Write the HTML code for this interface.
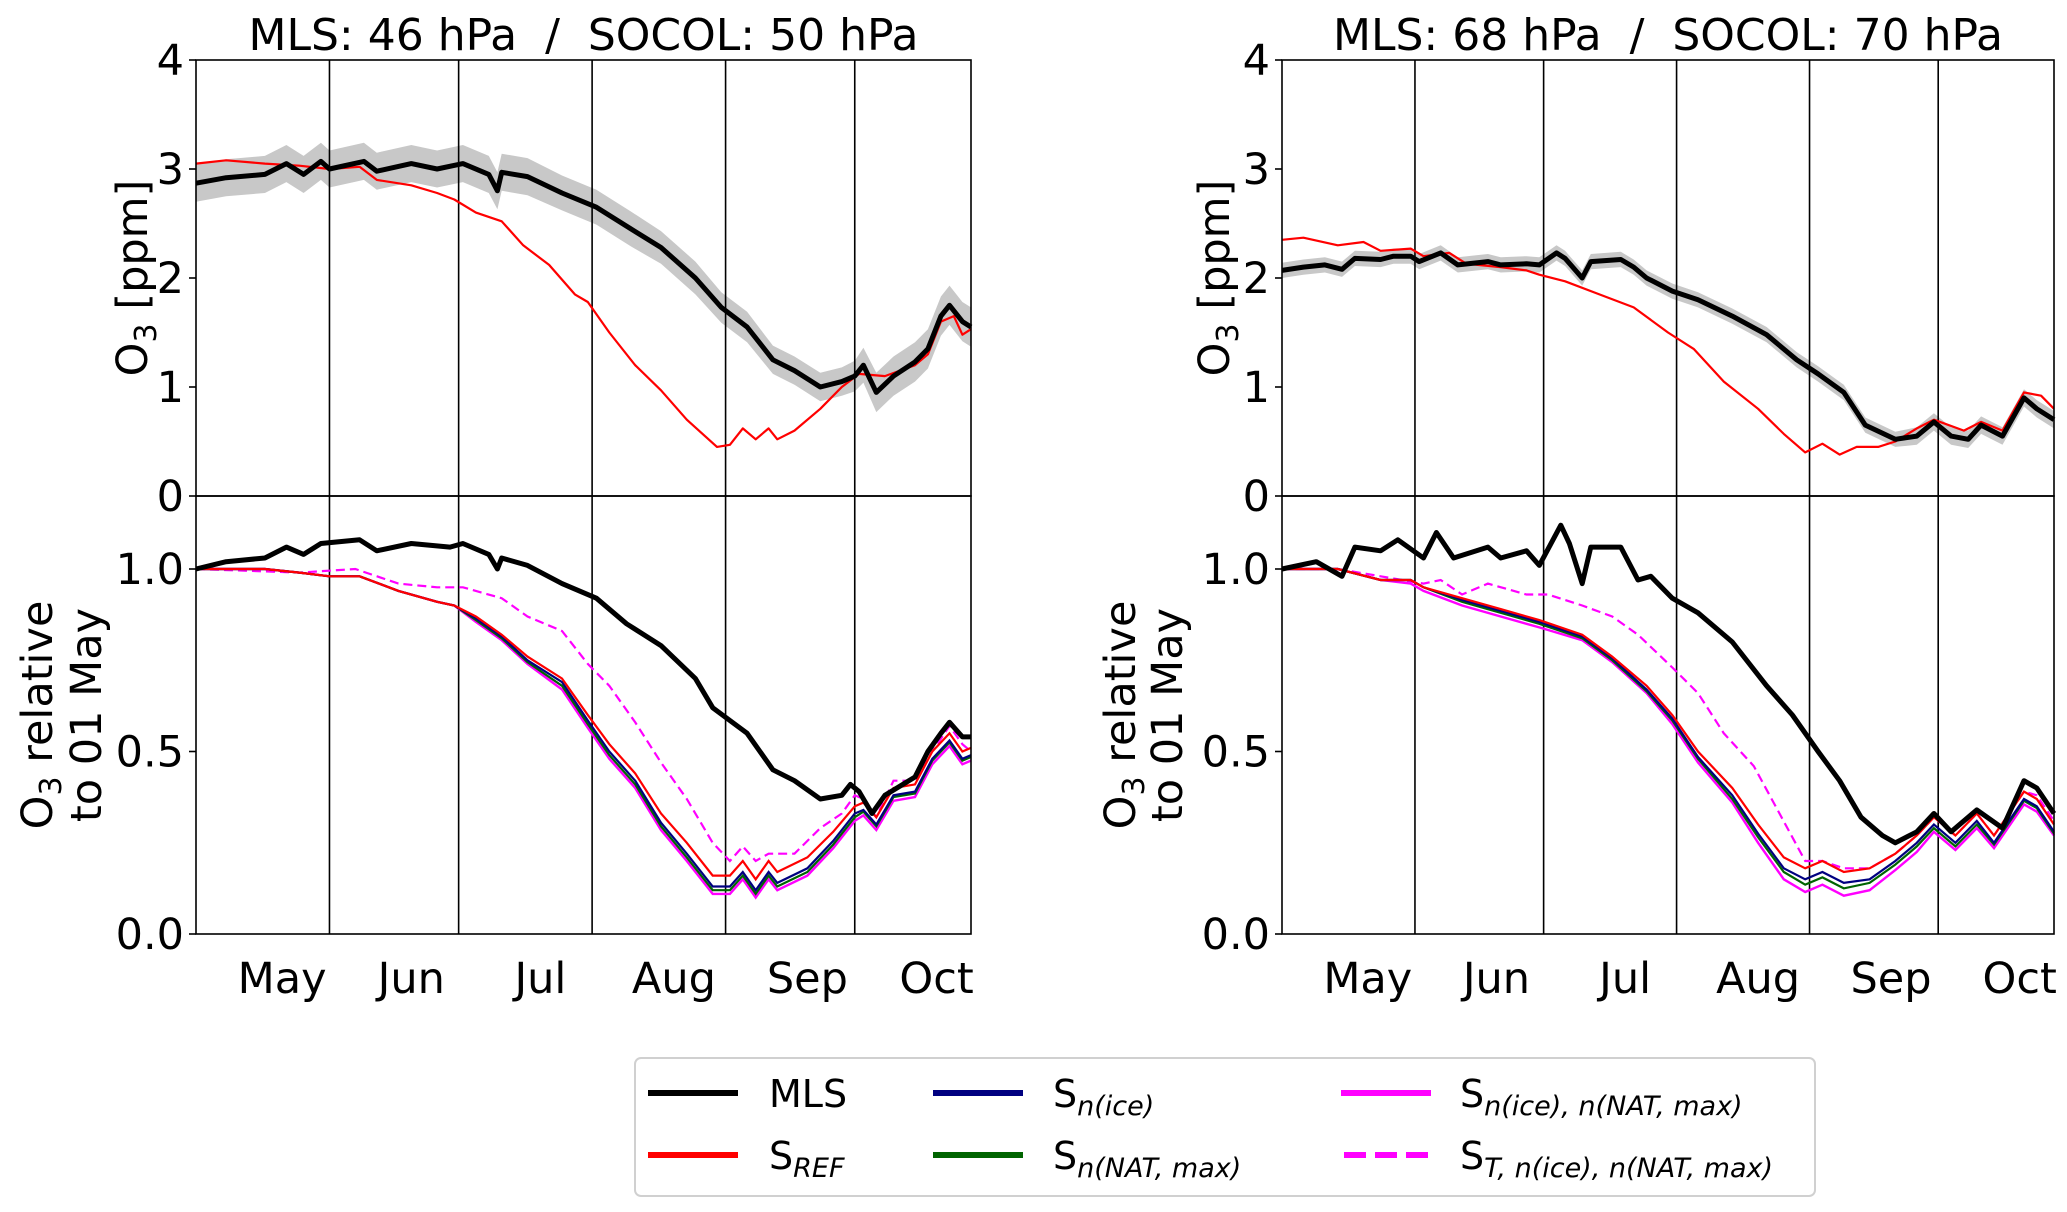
<!DOCTYPE html>
<html><head><meta charset="utf-8">
<style>
html,body{margin:0;padding:0;background:#fff;}
svg{display:block;font-family:"DejaVu Sans","Liberation Sans",sans-serif;}
</style></head>
<body>
<svg id="fig" width="2067" height="1212" viewBox="0 0 2067 1212" xmlns="http://www.w3.org/2000/svg">
  <g id="legend">
    <rect x="635" y="1058" width="1180" height="138" rx="6" fill="#fff" stroke="#d0d0d0" stroke-width="2"/>
    <g>
      <line x1="648" y1="1093" x2="738" y2="1093" stroke="#000" stroke-width="6"/>
      <text x="769" y="1107" font-size="38">MLS</text></g>
    <g>
      <line x1="648" y1="1155" x2="738" y2="1155" stroke="#ff0000" stroke-width="6"/>
      <text x="769" y="1169" font-size="38">S<tspan font-size="27" font-style="italic" dy="8">REF</tspan></text></g>
    <g>
      <line x1="933" y1="1093" x2="1023" y2="1093" stroke="#000080" stroke-width="6"/>
      <text x="1053" y="1107" font-size="38">S<tspan font-size="27" font-style="italic" dy="8">n(ice)</tspan></text></g>
    <g>
      <line x1="933" y1="1155" x2="1023" y2="1155" stroke="#006400" stroke-width="6"/>
      <text x="1053" y="1169" font-size="38">S<tspan font-size="27" font-style="italic" dy="8">n(NAT, max)</tspan></text></g>
    <g>
      <line x1="1341" y1="1093" x2="1431" y2="1093" stroke="#ff00ff" stroke-width="6"/>
      <text x="1460" y="1107" font-size="38">S<tspan font-size="27" font-style="italic" dy="8">n(ice), n(NAT, max)</tspan></text></g>
    <g>
      <line x1="1344" y1="1155" x2="1431" y2="1155" stroke="#ff00ff" stroke-width="6" stroke-dasharray="22,9"/>
      <text x="1460" y="1169" font-size="38">S<tspan font-size="27" font-style="italic" dy="8">T, n(ice), n(NAT, max)</tspan></text></g>
  </g>
</svg>
<script>
// ---- data: x = days since 01 May ----
const monthStarts = [31, 61, 92, 123, 153];
const monthLabels = ["May","Jun","Jul","Aug","Sep","Oct"];
const monthLabelDays = [20, 50, 80, 111, 142, 172];
const topTicks = [0,1,2,3,4];
const botTicks = [0.0,0.5,1.0];
const botTickLabels = ["0.0","0.5","1.0"];

// Left panel (MLS 46 hPa / SOCOL 50 hPa)
const L_mlsDays = [0,7,16,21,25,29,31,39,42,50,56,62,68,70,71,77,85,93,101,108,116,122,128,134,139,145,150,153,155,158,162,167,170,173,175,178,180];
const L_mlsPpm = [2.87,2.92,2.95,3.05,2.95,3.07,3.0,3.07,2.98,3.05,3.0,3.05,2.95,2.8,2.97,2.93,2.78,2.65,2.45,2.28,2.0,1.73,1.55,1.25,1.15,1.0,1.05,1.1,1.2,0.95,1.1,1.23,1.35,1.65,1.75,1.6,1.55];
const L_mlsSpread = [0.17,0.17,0.17,0.17,0.17,0.17,0.17,0.17,0.17,0.17,0.17,0.17,0.17,0.17,0.17,0.17,0.16,0.16,0.16,0.15,0.15,0.14,0.14,0.13,0.13,0.13,0.13,0.14,0.16,0.18,0.18,0.18,0.18,0.18,0.18,0.18,0.18];
const L_refDays = [0,7,16,24,31,38,42,50,56,60,65,71,76,82,88,91,96,102,108,114,121,124,127,130,133,135,139,145,150,154,160,167,170,173,176,178,180];
const L_refPpm = [3.05,3.08,3.05,3.03,3.0,3.02,2.9,2.85,2.78,2.72,2.6,2.52,2.3,2.12,1.85,1.78,1.5,1.2,0.97,0.7,0.45,0.47,0.62,0.52,0.62,0.52,0.6,0.8,1.0,1.12,1.1,1.2,1.3,1.6,1.65,1.48,1.53];
const L_mlsRelDays = [0,7,16,21,25,29,38,42,50,59,62,68,70,71,77,85,93,100,108,116,120,128,134,139,145,150,152,154,157,160,167,170,173,175,178,180];
const L_mlsRel = [1.0,1.02,1.03,1.06,1.04,1.07,1.08,1.05,1.07,1.06,1.07,1.04,1.0,1.03,1.01,0.96,0.92,0.85,0.79,0.7,0.62,0.55,0.45,0.42,0.37,0.38,0.41,0.39,0.33,0.38,0.43,0.5,0.55,0.58,0.54,0.54];
const L_simDays = [0,16,24,31,38,47,56,60,65,71,77,85,91,96,102,108,114,120,124,127,130,133,135,142,148,153,155,158,162,167,171,175,178,180];
const L_refRel = [1.0,1.0,0.99,0.98,0.98,0.94,0.91,0.9,0.87,0.82,0.76,0.7,0.6,0.52,0.44,0.33,0.25,0.16,0.16,0.2,0.15,0.2,0.17,0.21,0.28,0.35,0.36,0.32,0.4,0.41,0.5,0.55,0.5,0.51];
const L_iceRel = [1.0,1.0,0.99,0.98,0.98,0.94,0.91,0.9,0.865,0.815,0.75,0.69,0.585,0.5,0.42,0.305,0.22,0.13,0.13,0.17,0.12,0.17,0.14,0.18,0.255,0.33,0.34,0.3,0.38,0.39,0.48,0.53,0.48,0.49];
const L_natRel = [1.0,1.0,0.99,0.98,0.98,0.94,0.91,0.9,0.86,0.81,0.745,0.68,0.575,0.49,0.41,0.295,0.21,0.12,0.12,0.16,0.11,0.16,0.13,0.17,0.245,0.32,0.335,0.295,0.375,0.385,0.475,0.525,0.475,0.485];
const L_bothRel = [1.0,1.0,0.99,0.98,0.98,0.94,0.91,0.9,0.855,0.805,0.74,0.67,0.565,0.48,0.4,0.285,0.2,0.11,0.11,0.15,0.1,0.15,0.12,0.16,0.235,0.31,0.325,0.285,0.365,0.375,0.465,0.515,0.465,0.475];
const L_tDays = [0,24,37,47,56,62,71,77,85,91,96,102,108,114,120,124,127,130,133,139,145,150,153,155,158,162,167,171,175,178,180];
const L_tRel = [1.0,0.99,1.0,0.96,0.95,0.95,0.92,0.87,0.83,0.74,0.68,0.58,0.47,0.37,0.25,0.2,0.24,0.2,0.22,0.22,0.29,0.33,0.38,0.37,0.32,0.42,0.42,0.5,0.57,0.52,0.5];

// Right panel (MLS 68 hPa / SOCOL 70 hPa)
const R_mlsDays = [0,5,10,14,17,23,26,30,32,37,41,48,51,57,60,64,66,70,72,79,82,85,91,97,105,113,120,125,131,136,143,148,152,156,160,163,168,173,176,180];
const R_mlsPpm = [2.07,2.1,2.12,2.08,2.18,2.17,2.2,2.2,2.15,2.23,2.12,2.15,2.12,2.13,2.12,2.23,2.18,2.0,2.15,2.17,2.1,2.0,1.88,1.8,1.65,1.48,1.25,1.12,0.95,0.65,0.52,0.55,0.68,0.55,0.52,0.65,0.55,0.9,0.8,0.7];
const R_mlsSpread = [0.07,0.07,0.07,0.07,0.07,0.07,0.07,0.07,0.07,0.07,0.07,0.07,0.07,0.07,0.07,0.07,0.07,0.07,0.07,0.07,0.07,0.07,0.07,0.07,0.07,0.07,0.07,0.07,0.07,0.07,0.07,0.08,0.08,0.08,0.08,0.08,0.08,0.08,0.08,0.08];
const R_refDays = [0,5,13,19,23,30,33,39,43,51,57,60,66,74,82,90,96,103,111,117,122,126,130,134,139,143,148,152,159,163,168,173,177,180];
const R_refPpm = [2.35,2.37,2.3,2.33,2.25,2.27,2.2,2.23,2.13,2.1,2.07,2.03,1.97,1.85,1.73,1.5,1.35,1.05,0.8,0.57,0.4,0.48,0.38,0.45,0.45,0.5,0.62,0.7,0.6,0.68,0.6,0.95,0.92,0.8];
const R_mlsRelDays = [0,8,14,17,23,27,33,36,40,48,51,57,60,65,67,70,72,79,83,86,91,97,105,113,119,125,130,135,140,143,148,152,156,162,168,173,176,180];
const R_mlsRel = [1.0,1.02,0.98,1.06,1.05,1.08,1.03,1.1,1.03,1.06,1.03,1.05,1.01,1.12,1.07,0.96,1.06,1.06,0.97,0.98,0.92,0.88,0.8,0.68,0.6,0.5,0.42,0.32,0.27,0.25,0.28,0.33,0.28,0.34,0.29,0.42,0.4,0.33];
const R_simDays = [0,13,23,30,33,42,51,60,70,77,85,91,97,105,111,117,122,126,131,137,143,148,152,157,162,166,173,176,180];
const R_refRel = [1.0,1.0,0.97,0.97,0.95,0.92,0.89,0.86,0.82,0.76,0.68,0.6,0.5,0.4,0.3,0.21,0.18,0.2,0.17,0.18,0.22,0.27,0.32,0.27,0.33,0.27,0.39,0.37,0.3];
const R_iceRel = [1.0,1.0,0.97,0.97,0.95,0.915,0.885,0.855,0.815,0.755,0.67,0.59,0.485,0.38,0.275,0.18,0.15,0.17,0.14,0.15,0.2,0.25,0.3,0.25,0.31,0.25,0.37,0.35,0.28];
const R_natRel = [1.0,1.0,0.97,0.97,0.95,0.91,0.88,0.85,0.81,0.75,0.665,0.585,0.48,0.37,0.265,0.17,0.135,0.155,0.125,0.14,0.19,0.24,0.29,0.24,0.3,0.245,0.365,0.345,0.275];
const R_bothRel = [1.0,1.0,0.97,0.96,0.94,0.9,0.87,0.84,0.805,0.745,0.66,0.575,0.47,0.36,0.25,0.15,0.115,0.135,0.105,0.12,0.175,0.225,0.28,0.23,0.29,0.235,0.355,0.335,0.27];
const R_tDays = [0,13,23,33,37,42,48,57,62,70,77,83,91,97,103,110,116,122,126,131,137,143,148,152,157,162,166,173,176,180];
const R_tRel = [1.0,1.0,0.98,0.96,0.97,0.93,0.96,0.93,0.93,0.9,0.87,0.82,0.73,0.66,0.55,0.46,0.33,0.2,0.2,0.18,0.18,0.22,0.27,0.32,0.27,0.33,0.27,0.39,0.38,0.31];

const panelsMeta = [
  {key:"left", x0:196, W:775, title:"MLS: 46 hPa\u00a0\u00a0/\u00a0\u00a0SOCOL: 50 hPa", ylab1x:132, ylab2x:[37,86],
   mlsDays:L_mlsDays, mlsPpm:L_mlsPpm, spread:L_mlsSpread, refDays:L_refDays, refPpm:L_refPpm,
   mlsRelDays:L_mlsRelDays, mlsRel:L_mlsRel, simDays:L_simDays, refRel:L_refRel, iceRel:L_iceRel, natRel:L_natRel, bothRel:L_bothRel, tDays:L_tDays, tRel:L_tRel},
  {key:"right", x0:1282, W:772, title:"MLS: 68 hPa\u00a0\u00a0/\u00a0\u00a0SOCOL: 70 hPa", ylab1x:1214, ylab2x:[1120,1167],
   mlsDays:R_mlsDays, mlsPpm:R_mlsPpm, spread:R_mlsSpread, refDays:R_refDays, refPpm:R_refPpm,
   mlsRelDays:R_mlsRelDays, mlsRel:R_mlsRel, simDays:R_simDays, refRel:R_refRel, iceRel:R_iceRel, natRel:R_natRel, bothRel:R_bothRel, tDays:R_tDays, tRel:R_tRel}
];

const NS="http://www.w3.org/2000/svg";
const svg=document.getElementById("fig");
const TOP=60, MID=496, BOT=934, XMAX=180;
function mk(tag, attrs, parent){const e=document.createElementNS(NS,tag);for(const k in attrs)e.setAttribute(k,attrs[k]);(parent||svg).appendChild(e);return e;}
function pathFrom(xs, ys, sx, sy){return xs.map((d,i)=>(i?"L":"M")+sx(d).toFixed(1)+","+sy(ys[i]).toFixed(1)).join(" ");}

panelsMeta.forEach(p=>{
  const W=p.W;
  const sx=d=>p.x0+d/XMAX*W;
  const syT=v=>MID-(v/4)*(MID-TOP);
  const syB=v=>BOT-(v/1.2)*(BOT-MID);
  const g=mk("g",{});
  
  

  const title=mk("text",{x:p.x0+W/2,y:50,"font-size":44,"text-anchor":"middle"},g);
  title.textContent=p.title;
  
  

  const up=p.mlsDays.map((d,i)=>sx(d).toFixed(1)+","+syT(p.mlsPpm[i]+p.spread[i]).toFixed(1));
  const dn=p.mlsDays.map((d,i)=>sx(d).toFixed(1)+","+syT(p.mlsPpm[i]-p.spread[i]).toFixed(1)).reverse();
  const band=mk("polygon",{points:up.concat(dn).join(" "),fill:"#c8c8c8"},g);
  
  

  monthStarts.forEach((d,i)=>{
    const l=mk("line",{x1:sx(d),y1:TOP,x2:sx(d),y2:BOT,stroke:"#000","stroke-width":1.6},g);
    
    
  });

  const refT=mk("path",{d:pathFrom(p.refDays,p.refPpm,sx,syT),fill:"none",stroke:"#ff0000","stroke-width":2.2,"stroke-linejoin":"round"},g);
  
  
  const mlsT=mk("path",{d:pathFrom(p.mlsDays,p.mlsPpm,sx,syT),fill:"none",stroke:"#000","stroke-width":5,"stroke-linejoin":"round"},g);
  
  

  const t=mk("path",{d:pathFrom(p.tDays,p.tRel,sx,syB),fill:"none",stroke:"#ff00ff","stroke-width":2.2,"stroke-dasharray":"9,5"},g);
  
  
  const both=mk("path",{d:pathFrom(p.simDays,p.bothRel,sx,syB),fill:"none",stroke:"#ff00ff","stroke-width":2.4},g);
  
  
  const nat=mk("path",{d:pathFrom(p.simDays,p.natRel,sx,syB),fill:"none",stroke:"#006400","stroke-width":2.2},g);
  
  
  const ice=mk("path",{d:pathFrom(p.simDays,p.iceRel,sx,syB),fill:"none",stroke:"#000080","stroke-width":2.2},g);
  
  
  const ref=mk("path",{d:pathFrom(p.simDays,p.refRel,sx,syB),fill:"none",stroke:"#ff0000","stroke-width":2.2},g);
  
  
  const mlsB=mk("path",{d:pathFrom(p.mlsRelDays,p.mlsRel,sx,syB),fill:"none",stroke:"#000","stroke-width":5,"stroke-linejoin":"round"},g);
  
  

  const f1=mk("rect",{x:p.x0,y:TOP,width:W,height:MID-TOP,fill:"none",stroke:"#000","stroke-width":1.6},g);
  
  
  const f2=mk("rect",{x:p.x0,y:MID,width:W,height:BOT-MID,fill:"none",stroke:"#000","stroke-width":1.6},g);
  
  

  topTicks.forEach(v=>{
    mk("line",{x1:p.x0-7,y1:syT(v),x2:p.x0,y2:syT(v),stroke:"#000","stroke-width":1.6},g);
    const tx=mk("text",{x:p.x0-12,y:syT(v)+15,"font-size":43,"text-anchor":"end"},g);
    tx.textContent=String(v);
    
    
  });
  botTicks.forEach((v,i)=>{
    mk("line",{x1:p.x0-7,y1:syB(v),x2:p.x0,y2:syB(v),stroke:"#000","stroke-width":1.6},g);
    const tx=mk("text",{x:p.x0-12,y:syB(v)+15,"font-size":43,"text-anchor":"end"},g);
    tx.textContent=botTickLabels[i];
    
    
  });
  monthLabelDays.forEach((d,i)=>{
    const tx=mk("text",{x:sx(d),y:993,"font-size":43,"text-anchor":"middle"},g);
    tx.textContent=monthLabels[i];
    
    
  });

  const yl=mk("text",{x:0,y:0,"font-size":43,"text-anchor":"middle",transform:`translate(${p.ylab1x+15},${(TOP+MID)/2}) rotate(-90)`},g);
  yl.innerHTML='O<tspan font-size="30" dy="9">3</tspan><tspan dy="-9"> [ppm]</tspan>';
  
  
  const yl2=mk("text",{x:0,y:0,"font-size":43,"text-anchor":"middle",transform:`translate(${p.ylab2x[0]+15},${(MID+BOT)/2}) rotate(-90)`},g);
  yl2.innerHTML='O<tspan font-size="30" dy="9">3</tspan><tspan dy="-9"> relative</tspan>';
  
  
  const yl3=mk("text",{x:0,y:0,"font-size":43,"text-anchor":"middle",transform:`translate(${p.ylab2x[1]+15},${(MID+BOT)/2}) rotate(-90)`},g);
  yl3.textContent='to 01 May';
  
  
});
svg.appendChild(document.getElementById("legend"));
</script>
</body></html>
